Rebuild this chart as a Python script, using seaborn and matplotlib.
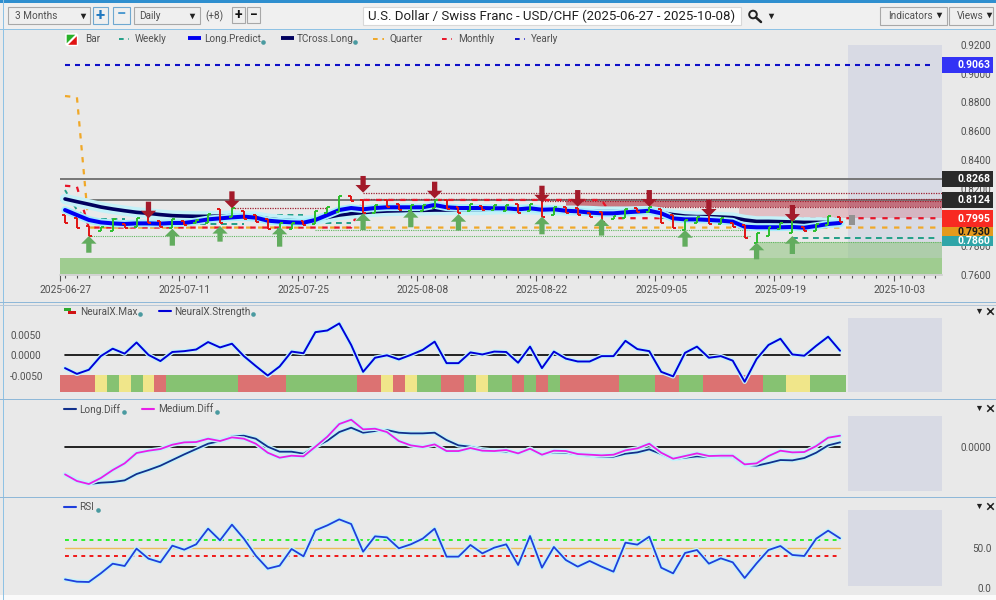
import matplotlib
matplotlib.use("Agg")
import matplotlib.pyplot as plt
import matplotlib.patheffects as pe
from matplotlib.patches import Rectangle, Polygon, Circle
from matplotlib.ticker import FixedLocator
from matplotlib.transforms import ScaledTranslation
import numpy as np
import seaborn as sns

sns.set_theme(style="white")
plt.rcParams["font.family"] = ["Roboto", "DejaVu Sans"]

# ---- data ----
date_labels = ["2025-06-27", "2025-07-11", "2025-07-25", "2025-08-08",
               "2025-08-22", "2025-09-05", "2025-09-19", "2025-10-03"]
date_ticks = [-0.42, 9.52, 19.5, 29.5, 39.5, 49.5, 59.5, 69.5]
price_ticks = [0.92, 0.90, 0.88, 0.86, 0.84, 0.82, 0.78, 0.76]

long_predict = [.8052, .8017, .7983, .7966, .7959, .7955, .7959, .7959, .7957, .7962, .7962,
                .7973, .7987, .7994, .8001, .8006, .7999, .7978, .7971, .7966, .7964, .7983,
                .8017, .8052, .8066, .8057, .8066, .8071, .8071, .8071, .8071, .8087, .8071,
                .8066, .8066, .8066, .8064, .8064, .8057, .8064, .8054, .8057, .8047, .8043,
                .8034, .8029, .8029, .8036, .8041, .8047, .8029, .7994, .7987, .7987, .7983,
                .7978, .7971, .7936, .7932, .7932, .7932, .7934, .7929, .7941, .7955, .7962]
tcross_long = [.8129, .8110, .8092, .8073, .8059, .8047, .8036, .8029, .8020, .8013, .8010,
               .8008, .8008, .8010, .8013, .8010, .8006, .7992, .7983, .7978, .7976, .7983,
               .8001, .8017, .8027, .8034, .8041, .8045, .8047, .8050, .8050, .8052, .8052,
               .8052, .8052, .8052, .8057, .8059, .8057, .8057, .8052, .8052, .8047, .8047,
               .8045, .8041, .8041, .8041, .8043, .8045, .8034, .8020, .8010, .8006, .8006,
               .8003, .7999, .7983, .7973, .7973, .7971, .7969, .7966, .7966, .7966, .7966]
bar_high = [.8017, .7994, .7941, .7936, .7987, .7955, .7994, .8029, .7978, .7987, .7978,
            .7983, .8024, .8057, .8064, .8047, .8017, .7990, .7959, .7964, .7978, .8043,
            .8075, .8150, .8150, .8122, .8087, .8122, .8092, .8087, .8087, .8122, .8122,
            .8075, .8092, .8080, .8087, .8087, .8094, .8094, .8145, .8071, .8071, .8064,
            .8034, .8041, .8010, .8057, .8064, .8075, .8057, .8017, .7983, .8006, .8029,
            .7994, .7964, .7948, .7890, .7936, .7964, .7983, .7932, .7955, .8010, .8001]
bar_low = [.7959, .7925, .7871, .7909, .7909, .7927, .7932, .7959, .7936, .7925, .7950,
           .7964, .7959, .7959, .8006, .7987, .7971, .7918, .7918, .7918, .7948, .7955,
           .8029, .8041, .8115, .8029, .8034, .8071, .8052, .8043, .8047, .8064, .8057,
           .8029, .8047, .8052, .8052, .8047, .8034, .8047, .8006, .8015, .8029, .8017,
           .8001, .7971, .7987, .7994, .8036, .8041, .7964, .7929, .7913, .7964, .7955,
           .7955, .7936, .7855, .7820, .7871, .7918, .7890, .7909, .7909, .7948, .7971]
bar_dir = list("RRRGGRGRRGRGGRGRRRGGRGGGRRGRRGGGRRGRGGRGRGRRRRGGRGRRGGRGRRGGGGRGGR")
forecast_bar = (.8017, .7951)

level_yearly = .9063
level_upper = .8268
level_mid = .8124
level_quarter = [.8845, .8836] + [.7930] * 72
level_monthly = [.8221, .8214] + [.7930] * 23 + [.8122] * 21 + [.7995] * 28
level_weekly = [.8191, .8052, .7983] + [.7990] * 3 + [.7955] * 10 + [.8017] * 5 + [.7959] * 4 \
    + [.8029] * 25 + [.7995] * 6 + [.7964] * 5 + [.7860] * 13

up_arrows = {2: (.7871, .7755), 9: (.7922, .7804), 13: (.7941, .7832), 18: (.7936, .7797),
             25: (.8029, .7913), 29: (.8052, .7932), 33: (.8024, .7909), 40: (.8006, .7883),
             45: (.7994, .7874), 52: (.7913, .7797), 58: (.7825, .7709), 61: (.7871, .7746)}
down_arrows = {7: (.7994, .8110), 14: (.8064, .8182), 25: (.8173, .8289), 31: (.8133, .8249),
               40: (.8105, .8221), 43: (.8075, .8191), 49: (.8075, .8191), 54: (.8006, .8122),
               61: (.7971, .8087)}

neural_strength = [-.0031, -.0045, -.0035, -.0002, .0016, .0004, .0031, .0001, -.0014, .0008, .0010,
                   .0014, .0032, .0019, .0028, -.0002, -.0026, -.0049, -.0027, .0009, .0005, .0056,
                   .0060, .0077, .0025, -.0040, -.0006, .0000, -.0010, .0001, .0013, .0033, -.0019,
                   -.0019, .0007, .0002, .0009, .0008, -.0018, .0021, -.0031, .0009, -.0008, -.0015,
                   -.0015, -.0002, -.0002, .0035, .0015, .0010, -.0040, -.0051, .0006, .0021, -.0006,
                   -.0002, -.0013, -.0064, -.0009, .0025, .0040, .0002, -.0001, .0023, .0045, .0011]
neural_max = list("RRRYGYGYRGGGGGGRRRRGGGGGGRRYRYGGRRGYGGRGRGRRRRRGGGRRGGRRRRRGGYYGGG")

long_diff = [-162, -198, -220, -212, -208, -198, -160, -136, -110, -76, -42, -10, 22, 38, 66, 70, 52,
             4, -26, -26, -38, 4, 40, 92, 118, 88, 98, 104, 88, 84, 84, 88, 44, 12, 4, -12, -20, -26,
             -32, -10, -40, -30, -32, -42, -50, -56, -56, -38, -30, -12, -40, -70, -62, -54, -58, -56,
             -56, -104, -110, -94, -76, -78, -64, -32, 12, 30]
medium_diff = [-162, -202, -220, -184, -136, -96, -34, -20, -10, 16, 30, 32, 52, 38, 60, 52, 22, -32,
               -62, -50, -54, 4, 64, 140, 166, 108, 112, 92, 38, 12, 2, 18, -22, -22, -4, -20, -22, -16,
               -36, -8, -44, -20, -22, -40, -44, -48, -44, -18, -6, 22, -32, -68, -52, -36, -52, -50,
               -50, -102, -96, -52, -20, -30, -28, 8, 58, 70]
rsi = [10.8, 7.9, 7.5, 18.3, 30.4, 27.5, 49.2, 36.7, 32.1, 52.9, 47.9, 54.6, 74.2, 59.6, 79.2, 61.7,
       40.4, 24.2, 27.9, 48.8, 39.6, 72.1, 78.3, 85.8, 80.0, 45.4, 64.6, 63.3, 49.6, 54.6, 61.7, 74.2,
       39.2, 39.2, 53.8, 43.3, 50.4, 54.6, 28.8, 65.0, 25.4, 51.3, 35.0, 26.7, 33.8, 26.7, 20.4, 56.7,
       54.2, 64.2, 25.4, 18.3, 43.8, 47.5, 30.4, 37.1, 32.1, 12.5, 30.8, 47.5, 52.5, 41.3, 40.0, 61.7,
       71.7, 62.1]

# ---- layout ----
W, H = 996, 600
BG = "#E9E9E9"
XMIN, XMAX = -0.42, 73.55
FC_LEFT = 65.63
idx = np.arange(len(long_predict))
lvl_idx = np.arange(74)
TXT = "#505050"
GREEN, RED = "#2DBE2D", "#E01414"
halo = [pe.Stroke(linewidth=3.2, foreground="#C4F3FA"), pe.Normal()]
FS = 7.2

fig = plt.figure(figsize=(W / 100, H / 100), dpi=100, facecolor=BG)


def panel(top, bottom):
    ax = fig.add_axes([60 / W, 1 - bottom / H, 882 / W, (bottom - top) / H])
    ax.set_facecolor("none")
    sns.despine(ax=ax, left=True, bottom=True, right=True, top=True)
    ax.set_xlim(XMIN, XMAX)
    ax.set_xticks([])
    ax.grid(False)
    ax.plot([XMIN, XMIN], [0, 1], transform=ax.transAxes, color="#D4D4D4", lw=1, clip_on=False)
    return ax


def draw(ax, x, y, color, lw=1.6, dash=None, z=3, effects=None):
    kw = {}
    if dash is not None:
        kw["linestyle"] = (0, dash)
    if effects is not None:
        kw["path_effects"] = effects
    sns.lineplot(x=list(x), y=list(y), ax=ax, color=color, linewidth=lw, zorder=z,
                 errorbar=None, legend=False, estimator=None, sort=False, **kw)


# ---- main price panel ----
ax = panel(45, 275)
ax.set_ylim(0.76, 0.92)
ax.axvspan(FC_LEFT, XMAX, color="#D8DAE4", zorder=0, lw=0)
ax.axhspan(.7607, .7716, color="#9FCC90", zorder=1, lw=0)
ax.fill_between([58, XMAX], .7716, .7828, color="#8CC47C", alpha=0.55, zorder=1, lw=0)
ax.fill_between([42, XMAX], .8075, .8115, color="#B01828", alpha=0.55, zorder=1, lw=0)
ax.fill_between([56.5, XMAX], .7995, .8075, color="#D06070", alpha=0.30, zorder=1, lw=0)

ax.hlines([level_upper, level_mid], XMIN, XMAX, color="#6E6E6E", lw=1.3, zorder=2)
thin = (1, 1)
draw(ax, [14, 22], [.8064, .8064], "#A02030", 0.9, thin, 2)
draw(ax, [25, XMAX], [.8173, .8173], "#A02030", 0.9, thin, 2)
draw(ax, [25, XMAX], [.8129, .8129], "#A02030", 0.9, thin, 2)
draw(ax, [40, XMAX], [.8115, .8115], "#A02030", 0.9, thin, 2)
draw(ax, [40, XMAX], [.8075, .8075], "#A02030", 0.9, thin, 2)
draw(ax, [2, 57.5], [.7874, .7874], "#60B860", 0.8, thin, 2)
draw(ax, [21, 57.5], [.7913, .7913], "#60B860", 0.8, thin, 2)
draw(ax, [58, XMAX], [.7828, .7828], "#60B860", 0.8, thin, 2)

draw(ax, lvl_idx, [level_yearly] * 74, "#1010C8", 1.5, (2.4, 2.4))
draw(ax, lvl_idx, level_quarter, "#F0A828", 1.6, (2.4, 3))
weekly = np.array(level_weekly)
draw(ax, lvl_idx[:3], weekly[:3], "#22A088", 1.4, (2.2, 2.4))
start = 3
for i in range(4, 75):
    if i == 74 or weekly[i] != weekly[start]:
        draw(ax, lvl_idx[start:i], weekly[start:i], "#22A088", 1.4, (3, 2.4))
        start = i
draw(ax, lvl_idx, level_monthly, "#E81428", 1.6, (2.4, 3))

draw(ax, idx, tcross_long, "#00005E", 2.6, z=4,
     effects=[pe.Stroke(linewidth=7.5, foreground="#C4F1F8"), pe.Normal()])
draw(ax, idx, long_predict, "#0000F0", 2.9, z=5,
     effects=[pe.Stroke(linewidth=5.5, foreground="#A8EEFA"), pe.Normal()])

for i, (hi, lo, d) in enumerate(zip(bar_high, bar_low, bar_dir)):
    c = RED if d == "R" else GREEN
    o, cl = (hi, lo) if d == "R" else (lo, hi)
    ax.vlines(i, lo, hi, color=c, lw=1.4, zorder=6)
    ax.hlines(o, i - 0.25, i, color=c, lw=1.4, zorder=6)
    ax.hlines(cl, i, i + 0.25, color=c, lw=1.4, zorder=6)
ax.bar([66], [forecast_bar[0] - forecast_bar[1]], bottom=forecast_bar[1], width=0.55,
       color="#929292", zorder=6, linewidth=0)

arrow_kw = dict(width=3.8, headwidth=11, headlength=5.5, shrink=0, lw=0)
for i, (tip, tail) in up_arrows.items():
    ax.annotate("", xy=(i, tip), xytext=(i, tail), zorder=7,
                arrowprops=dict(color="#62AC5E", **arrow_kw))
for i, (tip, tail) in down_arrows.items():
    ax.annotate("", xy=(i, tip), xytext=(i, tail), zorder=7,
                arrowprops=dict(color="#A31A2A", **arrow_kw))

ax.yaxis.tick_right()
ax.set_yticks(price_ticks)
ax.set_yticklabels([f"{v:.4f}" for v in price_ticks], ha="right", color=TXT, fontsize=FS)
ax.tick_params(axis="y", length=0, pad=35.5, right=False)
ax.set_xticks(date_ticks)
ax.set_xticklabels(date_labels, color=TXT, fontsize=FS + 0.2)
ax.xaxis.set_minor_locator(FixedLocator(list(idx) + list(range(66, 74))))
ax.tick_params(axis="x", which="major", length=4, width=0.8, color="#555555", pad=3.5, bottom=True)
ax.tick_params(axis="x", which="minor", length=1.8, width=0.8, color="#555555", bottom=True)
for lab in ax.get_xticklabels():
    lab.set_transform(lab.get_transform() + ScaledTranslation(6 / 100, 0, fig.dpi_scale_trans))
ax.spines["bottom"].set_visible(True)
ax.spines["bottom"].set_color("#D0D0D0")

# ---- NeuralX panel ----
ax2 = panel(318, 392)
ax2.set_ylim(-0.00888, 0.00902)
ax2.axvspan(FC_LEFT, XMAX, color="#D8DAE4", zorder=0, lw=0)
cell_colors = {"R": "#DC7272", "G": "#86C272", "Y": "#F0E68A"}
ax2.bar(idx, [0.00399] * len(idx), bottom=-0.00876, width=1.0,
        color=[cell_colors[c] for c in neural_max], zorder=1, linewidth=0)
draw(ax2, idx, [0] * len(idx), "#000000", 1.2, z=2)
draw(ax2, idx, neural_strength, "#0000D8", 1.4, z=3, effects=halo)
ax2.yaxis.tick_left()
ax2.set_yticks([-0.005, 0, 0.005])
ax2.set_yticklabels(["-0.0050", "0.0000", "0.0050"], ha="left", color=TXT, fontsize=FS)
ax2.tick_params(axis="y", length=0, pad=36)

# ---- Diff panel ----
ax3 = panel(415.7, 490.7)
ax3.set_ylim(-260, 190)
ax3.axvspan(FC_LEFT, XMAX, color="#D8DAE4", zorder=0, lw=0)
draw(ax3, idx, [0] * len(idx), "#000000", 1.2, z=2)
draw(ax3, idx, long_diff, "#12308C", 1.3, z=3, effects=halo)
draw(ax3, idx, medium_diff, "#E81EE8", 1.3, z=4, effects=halo)
ax3.yaxis.tick_right()
ax3.set_yticks([0])
ax3.set_yticklabels(["0.0000"], ha="right", color=TXT, fontsize=FS)
ax3.tick_params(axis="y", length=0, pad=35.5, right=False)

# ---- RSI panel ----
ax4 = panel(508, 588)
ax4.set_ylim(0, 100)
ax4.fill_between([FC_LEFT, XMAX], 2, 97, color="#D8DAE4", zorder=0, lw=0)
draw(ax4, idx, [50] * len(idx), "#EDBE5A", 1.0, z=2)
draw(ax4, idx, [60] * len(idx), "#2EF02E", 1.4, (2, 2.2), 2)
draw(ax4, idx, [40] * len(idx), "#F01818", 1.4, (2, 2.2), 2)
draw(ax4, idx, rsi, "#1F3FDC", 1.3, z=3, effects=halo)
ax4.yaxis.tick_right()
ax4.set_yticks([0, 50])
ax4.set_yticklabels(["0.0", "50.0"], ha="right", color=TXT, fontsize=FS)
ax4.tick_params(axis="y", length=0, pad=35.5, right=False)

# ---- chrome overlay, pixel coordinates ----
ov = fig.add_axes([0, 0, 1, 1], zorder=20)
ov.set_xlim(0, W)
ov.set_ylim(H, 0)
ov.axis("off")
ov.patch.set_visible(False)
under = fig.add_axes([0, 0, 1, 1], zorder=-5)
under.set_xlim(0, W)
under.set_ylim(H, 0)
under.axis("off")


def box(x0, y0, x1, y1, fc, ec="none", lw=0.8, a=ov, z=1):
    a.add_patch(Rectangle((x0, y0), x1 - x0, y1 - y0, facecolor=fc, edgecolor=ec, linewidth=lw, zorder=z))


def label(x, y, s, size=FS, color=TXT, ha="left", weight="normal", a=ov):
    a.text(x, y, s, fontsize=size, color=color, ha=ha, va="center", fontweight=weight, zorder=5)


def caret(x, y, s=16, color="#222222"):
    ov.scatter([x], [y], marker="v", s=s, color=color, linewidths=0, zorder=5)


# toolbar background and rules
box(0, 0, W, 29, "#F0F0F0", a=under)
box(0, 595, W, H, "#FAFAFA", a=under)
box(0, 0, W, 2.5, "#2F8FCF")
box(0, 28.5, W, 30, "#8FC2E4")
box(2.5, 0, 4, 600, "#8FC2E4")
for yy in (302, 399, 497):
    box(0, yy, W, yy + 1.4, "#8FB8D8")
box(0, 304.5, W, 306, "#B8C8D8")

# left controls
box(8, 7, 90, 24, "#EFEFEF", "#A8A8A8")
label(15, 16, "3 Months")
caret(83, 15.5)
box(93, 7, 108, 24, "#EFEFEF", "#6FA8D0")
label(100.5, 15.3, "+", 12, "#1F78C0", "center", "bold")
box(113, 7, 130, 24, "#EFEFEF", "#6FA8D0")
label(121.5, 15, "\u2212", 12, "#4E9BD0", "center", "bold")
box(134, 7, 200, 24, "#EFEFEF", "#A8A8A8")
label(139, 16, "Daily")
caret(192, 15.5)
label(205, 16, "(+8)")
box(232, 7, 245, 23, "#EFEFEF", "#A8A8A8")
label(238.5, 15.3, "+", 10, "#111111", "center", "bold")
box(247, 7, 260, 23, "#EFEFEF", "#A8A8A8")
label(253.5, 15, "\u2212", 10, "#111111", "center", "bold")

# title
box(363, 7, 741, 25, "#FFFFFF", "#D8D8D8")
label(552, 16.5, "U.S. Dollar / Swiss Franc - USD/CHF (2025-06-27 - 2025-10-08)", 9.5, "#202020", "center")
ov.add_patch(Circle((753, 14.5), 3.8, facecolor="none", edgecolor="#222222", lw=1.4, zorder=5))
ov.plot([756, 761], [17.5, 22], color="#222222", lw=1.8, zorder=5)
caret(771, 16)
box(880, 7, 947, 25, "#EFEFEF", "#A8A8A8")
label(888, 16, "Indicators")
caret(939, 15)
box(949, 7, 993, 25, "#EFEFEF", "#A8A8A8")
label(957, 16, "Views")
caret(989, 15)

# main legend
LEG = 39
ov.add_patch(Polygon([(66, 34), (77, 34), (66, 45)], facecolor="#28B028", zorder=3))
ov.add_patch(Polygon([(77, 34), (77, 45), (66, 45)], facecolor="#E01414", zorder=3))
label(85, LEG, "Bar")
ov.plot([119, 129], [LEG, LEG], color="#22A088", lw=1.4, ls=(0, (2.4, 2.4)))
label(135, LEG, "Weekly")
ov.plot([188, 201], [LEG - 1, LEG - 1], color="#0000F0", lw=2.8, solid_capstyle="butt")
label(204, LEG, "Long.Predict")
ov.plot([281, 294], [LEG - 1, LEG - 1], color="#00005E", lw=2.8, solid_capstyle="butt")
label(297, LEG, "TCross.Long")
ov.plot([373, 384], [LEG, LEG], color="#F0A828", lw=1.4, ls=(0, (2.4, 2.4)))
label(389, LEG, "Quarter")
ov.plot([442, 452], [LEG, LEG], color="#E81428", lw=1.4, ls=(0, (2.4, 2.4)))
label(458, LEG, "Monthly")
ov.plot([515, 525], [LEG, LEG], color="#1010C8", lw=1.4, ls=(0, (2.4, 2.4)))
label(531, LEG, "Yearly")

# sub legends
box(64, 308, 71, 311, "#2DAA2D")
box(68, 311, 76, 314, "#D01414")
label(80, 312, "NeuralX.Max")
ov.plot([159, 171], [311, 311], color="#0000D8", lw=1.5)
label(174, 312, "NeuralX.Strength")
ov.plot([64, 76], [409, 409], color="#12308C", lw=1.5)
label(79, 409.5, "Long.Diff")
ov.plot([142, 154], [409, 409], color="#E81EE8", lw=1.5)
label(158, 409.5, "Medium.Diff")
ov.plot([64, 76], [506.5, 506.5], color="#1F3FDC", lw=1.5)
label(79, 507, "RSI")
ov.scatter([263, 355, 140, 253, 124, 217, 98], [42, 42, 314, 314, 412, 412, 509.5],
           s=11, color="#4A9AA0", linewidths=0, zorder=5)

# panel controls
for yy in (310.5, 408, 505.5):
    caret(979, yy, 14)
    ov.scatter([990], [yy], marker="x", s=22, color="#222222", linewidths=1.1, zorder=5)

# price flags on the right
flags = [(57, 73, "#3333F5", "0.9063", "#FFFFFF"),
         (171, 187, "#2A2A2A", "0.8268", "#FFFFFF"),
         (191.7, 207.7, "#2A2A2A", "0.8124", "#FFFFFF"),
         (210, 226.5, "#F82A22", "0.7995", "#FFFFFF"),
         (226.5, 236, "#E49A1C", "0.7930", "#1A1A1A"),
         (236, 245.7, "#2FA5A8", "0.7860", "#FFFFFF")]
for y0, y1, fc, txt, tc in flags:
    box(942, y0, 992.5, y1, fc, z=2)
    label(990.5, (y0 + y1) / 2 + 0.3, txt, FS + 0.4, tc, "right", "bold")

fig.savefig("out.png", dpi=100, facecolor=BG)
